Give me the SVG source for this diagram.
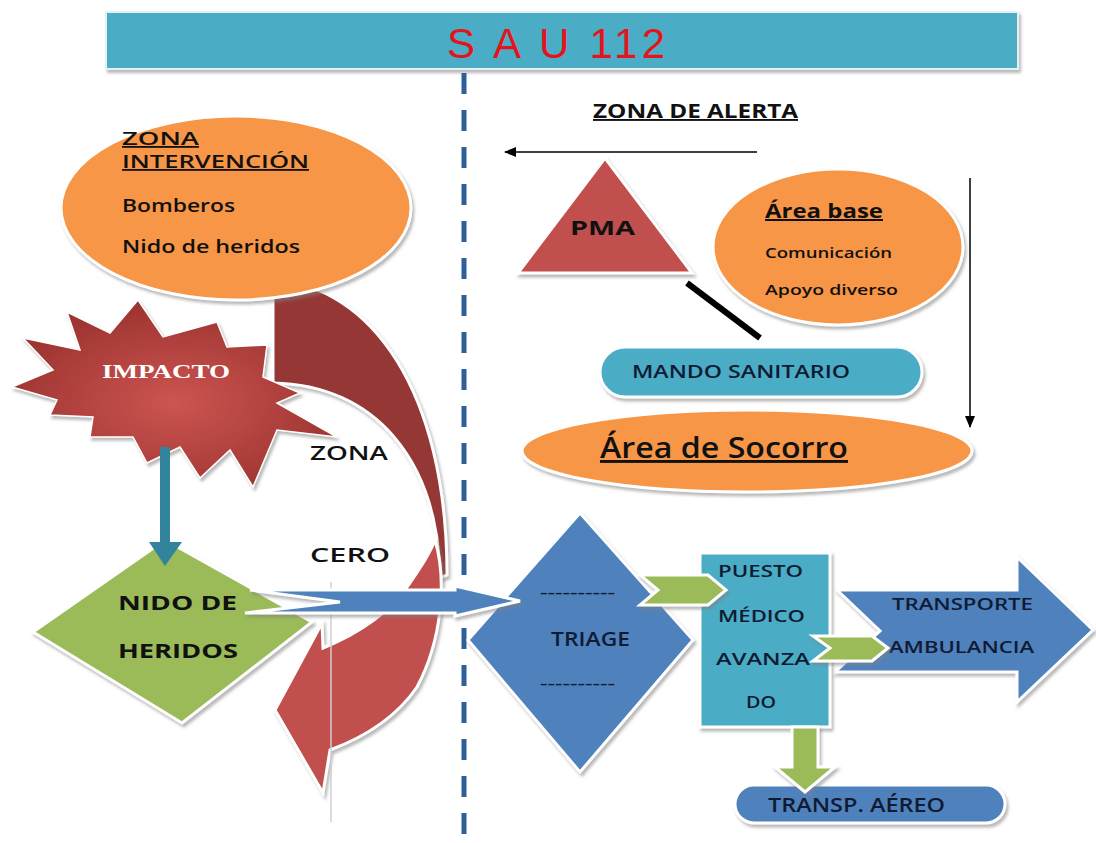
<svg xmlns="http://www.w3.org/2000/svg" width="1096" height="843" viewBox="0 0 1096 843">
<defs>
<filter id="sh" x="-15%" y="-15%" width="140%" height="140%"><feDropShadow dx="2" dy="3" stdDeviation="1.5" flood-color="#7f7f7f" flood-opacity="0.55"/></filter>
<radialGradient id="starG" cx="0.5" cy="0.55" r="0.55"><stop offset="0" stop-color="#cc5551"/><stop offset="1" stop-color="#9c3330"/></radialGradient>
<marker id="ah" markerWidth="12" markerHeight="10" refX="11" refY="5" orient="auto" markerUnits="userSpaceOnUse"><path d="M0,0 L12,5 L0,10 Z" fill="#000"/></marker>
</defs>
<style>
text{font-family:"Open Sans",Lato,"Liberation Sans",sans-serif;fill:#111;font-weight:600;}
.b{font-weight:700;}
.r{font-weight:400;}
.u{text-decoration:underline;}
.orange{fill:#f79646;stroke:#fff;stroke-width:3;filter:url(#sh);}
.blue{fill:#4f81bd;stroke:#fff;stroke-width:3;filter:url(#sh);}
.teal{fill:#4bacc6;stroke:#fff;stroke-width:3;filter:url(#sh);}
.green{fill:#9bbb59;stroke:#fff;stroke-width:3;filter:url(#sh);}
.navy{fill:#0f1b33;}
</style>

<g id="title">
<rect x="106" y="12" width="912" height="57" fill="#4bacc6" stroke="#e4f1f5" stroke-width="2" filter="url(#sh)"/>
<text x="447" y="58" font-size="42" class="r" style="fill:#e3141b;font-family:'Liberation Sans Narrow','Liberation Sans',sans-serif" textLength="218">S A U 112</text>
</g>

<g id="divider">
<line x1="464" y1="73" x2="464" y2="843" stroke="#2f5f98" stroke-width="5" stroke-dasharray="21 16"/>
</g>

<g id="zona-alerta">
<text x="593" y="118" font-size="19" class="b u" textLength="205" lengthAdjust="spacingAndGlyphs">ZONA DE ALERTA</text>
</g>

<g id="zona-cero">
<path d="M273 280 C370 285 447 390 447 575 L440 578 C438 460 375 385 273 383 Z" fill="#953735" stroke="#fff" stroke-width="3" filter="url(#sh)"/>
<path d="M435 540 C447 580 442 640 417 687 C398 715 370 735 330 750 L323 793 L275 710 L322 623 L323 648 C360 633 393 610 410 583 C422 565 430 553 435 540 Z" fill="#c0504d" stroke="#fff" stroke-width="3" filter="url(#sh)"/>
<line x1="331" y1="582" x2="331" y2="822" stroke="#cfcfcf" stroke-width="1.5"/>
<text x="310" y="460" font-size="19" textLength="78" lengthAdjust="spacingAndGlyphs">ZONA</text>
<text x="310" y="562" font-size="19" textLength="80" lengthAdjust="spacingAndGlyphs">CERO</text>
</g>

<g id="zona-intervencion">
<ellipse cx="236" cy="208" rx="175" ry="92" class="orange"/>
<text x="122" y="145" font-size="18" class="u" textLength="77" lengthAdjust="spacingAndGlyphs">ZONA</text>
<text x="122" y="168" font-size="18" class="u" textLength="187" lengthAdjust="spacingAndGlyphs">INTERVENCIÓN</text>
<text x="122" y="212" font-size="18" textLength="113" lengthAdjust="spacingAndGlyphs">Bomberos</text>
<text x="122" y="253" font-size="18" textLength="178" lengthAdjust="spacingAndGlyphs">Nido de heridos</text>
</g>

<g id="impacto">
<polygon points="138,300 163,337 217,322 227,347 267,345 263,377 300,393 277,403 337,437 277,430 253,487 230,450 200,478 180,447 147,463 133,437 90,437 93,417 50,415 57,400 12,387 53,370 23,338 80,350 67,312 110,333" fill="url(#starG)" stroke="#fff" stroke-width="1.5" filter="url(#sh)"/>
<text x="102" y="378" font-size="19" class="b" style="fill:#fff;font-family:'Liberation Serif',serif" textLength="128" lengthAdjust="spacingAndGlyphs">IMPACTO</text>
</g>

<g id="nido-heridos">
<polygon points="165,540 312,622 182,723 33,632" class="green"/>
<text x="118" y="610" font-size="20" class="b" textLength="119" lengthAdjust="spacingAndGlyphs">NIDO DE</text>
<text x="118" y="658" font-size="20" class="b" textLength="120" lengthAdjust="spacingAndGlyphs">HERIDOS</text>
</g>

<g id="pma">
<polygon points="605,158 692,273 518,273" fill="#c0504d" stroke="#fff" stroke-width="3" filter="url(#sh)"/>
<text x="570" y="235" font-size="20" class="b" textLength="65" lengthAdjust="spacingAndGlyphs">PMA</text>
</g>

<g id="area-base">
<ellipse cx="838" cy="247" rx="125" ry="78" class="orange"/>
<text x="765" y="218" font-size="20" class="b u" textLength="118" lengthAdjust="spacingAndGlyphs">Área base</text>
<text x="765" y="258" font-size="14" textLength="127" lengthAdjust="spacingAndGlyphs">Comunicación</text>
<text x="765" y="295" font-size="14" textLength="133" lengthAdjust="spacingAndGlyphs">Apoyo  diverso</text>
</g>

<g id="mando-sanitario">
<rect x="600" y="347" width="322" height="50" rx="25" class="teal"/>
<text x="632" y="378" font-size="18.5" class="navy" textLength="218" lengthAdjust="spacingAndGlyphs">MANDO SANITARIO</text>
</g>

<g id="area-socorro">
<ellipse cx="747" cy="451" rx="225" ry="41" class="orange"/>
<text x="600" y="458" font-size="29" class="u" textLength="248" lengthAdjust="spacingAndGlyphs">Área de Socorro</text>
</g>

<g id="triage">
<polygon points="580,513 693,640 580,772 468,640" class="blue"/>
<text x="540" y="597" font-size="14" class="navy" textLength="75" lengthAdjust="spacingAndGlyphs">----------</text>
<text x="551" y="646" font-size="20" class="navy" textLength="79" lengthAdjust="spacingAndGlyphs">TRIAGE</text>
<text x="540" y="688" font-size="14" class="navy" textLength="75" lengthAdjust="spacingAndGlyphs">----------</text>
</g>

<g id="transporte-ambulancia">
<polygon points="837,590 1017,590 1017,557 1093,630 1017,702 1017,672 835,672 880,631" class="blue"/>
<text x="892" y="610" font-size="17" class="navy" textLength="141" lengthAdjust="spacingAndGlyphs">TRANSPORTE</text>
<text x="889" y="653" font-size="17" class="navy" textLength="145" lengthAdjust="spacingAndGlyphs">AMBULANCIA</text>
</g>

<g id="puesto-medico">
<rect x="700" y="553" width="130" height="174" class="teal"/>
<text x="718" y="577" font-size="17" class="navy" textLength="85" lengthAdjust="spacingAndGlyphs">PUESTO</text>
<text x="718" y="622" font-size="17" class="navy" textLength="87" lengthAdjust="spacingAndGlyphs">MÉDICO</text>
<text x="716" y="665" font-size="17" class="navy" textLength="94" lengthAdjust="spacingAndGlyphs">AVANZA</text>
<text x="746" y="708" font-size="17" class="navy" textLength="30" lengthAdjust="spacingAndGlyphs">DO</text>
</g>

<g id="transp-aereo">
<rect x="735" y="785" width="270" height="38" rx="19" class="blue"/>
<text x="768" y="812" font-size="19" class="navy" textLength="177" lengthAdjust="spacingAndGlyphs">TRANSP. AÉREO</text>
</g>

<g id="connectors">
<line x1="757" y1="152" x2="505" y2="152" stroke="#000" stroke-width="1.5" marker-end="url(#ah)"/>
<line x1="970" y1="178" x2="970" y2="427" stroke="#000" stroke-width="1.5" marker-end="url(#ah)"/>
<line x1="687" y1="283" x2="760" y2="338" stroke="#000" stroke-width="6"/>
<path d="M160 447 L170 447 L170 542 L182 542 L165 566 L149 542 L160 542 Z" fill="#31849b"/>
<polygon points="250,590 455,590 455,586 520,601 455,616 455,613 245,613 340,602" class="blue"/>
<polygon points="640,575 708,575 726,590 708,605 640,605 658,590" class="green"/>
<polygon points="813,636 872,636 888,648 872,661 813,661 830,648" class="green"/>
<polygon points="792,727 818,727 818,767 835,767 805,792 775,767 792,767" class="green"/>
</g>
</svg>
